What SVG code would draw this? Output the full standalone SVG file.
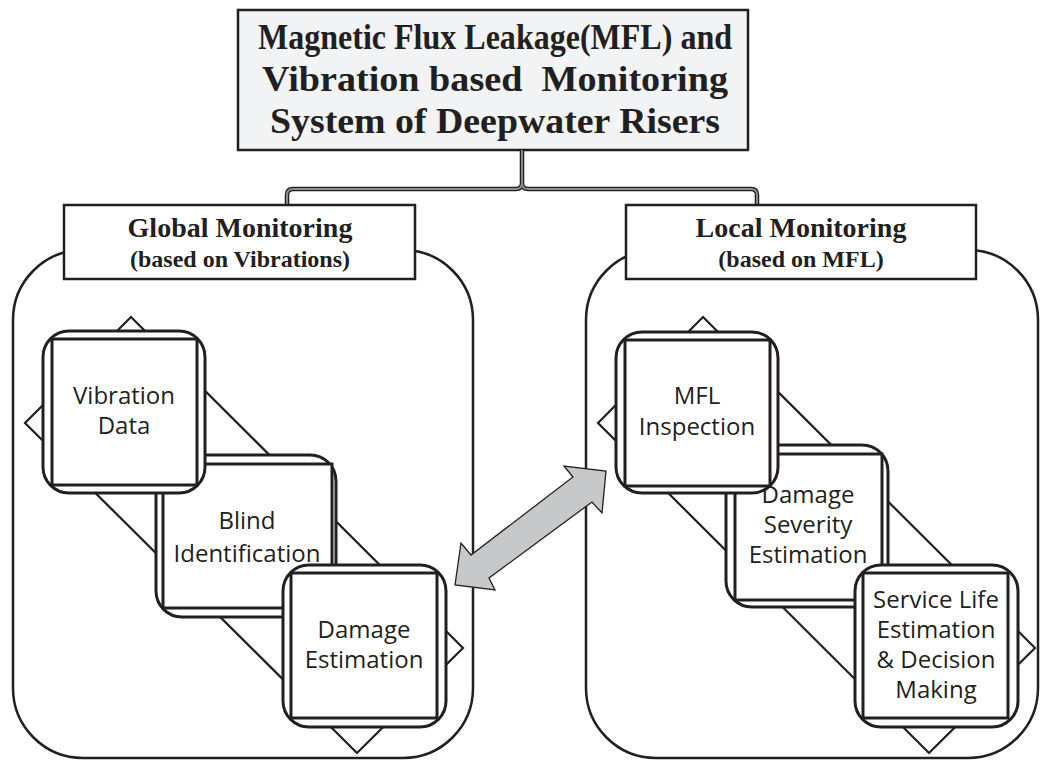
<svg xmlns="http://www.w3.org/2000/svg" width="1041" height="762" viewBox="0 0 1041 762">
<style>
.cont{fill:#fff;stroke:#231f20;stroke-width:2.5}
.hdr{fill:#fff;stroke:#231f20;stroke-width:2.5}
.dia{fill:#fff;stroke:#231f20;stroke-width:2.2}
.outer{fill:#fff;stroke:#231f20;stroke-width:3}
.inner{fill:#fff;stroke:#231f20;stroke-width:3}
.tt{font-family:"Liberation Serif",serif;font-weight:bold;fill:#231f20;text-anchor:middle}
.big{font-family:"Liberation Serif",serif;font-weight:bold;font-size:36px;fill:#231f20;text-anchor:middle}
.nt{font-family:"Open Sans","Liberation Sans",sans-serif;font-size:24px;fill:#231f20;text-anchor:middle}
</style>
<rect width="1041" height="762" fill="#fff"/>

<g id="title">
<rect x="238" y="10" width="510" height="140" fill="#f2f3f4" stroke="#231f20" stroke-width="2.5"/>
<text class="big" x="495" y="49" textLength="474" lengthAdjust="spacingAndGlyphs">Magnetic Flux Leakage(MFL) and</text>
<text class="big" x="495" y="91" textLength="466" lengthAdjust="spacingAndGlyphs" xml:space="preserve">Vibration based  Monitoring</text>
<text class="big" x="495" y="133" textLength="450" lengthAdjust="spacingAndGlyphs">System of Deepwater Risers</text>
</g>

<g id="connectors">
<path d="M287,205 V195 Q287,189 293,189 H516 Q522,189 522,183 V150 M522,183 Q522,189 528,189 H751 Q757,189 757,195 V205" fill="none" stroke="#231f20" stroke-width="4.5"/>
<path d="M287,205 V195 Q287,189 293,189 H516 Q522,189 522,183 V150 M522,183 Q522,189 528,189 H751 Q757,189 757,195 V205" fill="none" stroke="#8c8c8c" stroke-width="2"/>
</g>

<g id="global-container">
<rect class="cont" x="13" y="250" width="460" height="508" rx="70"/>
<polygon class="dia" points="131,317 463,648 357,753 25,423"/>
</g>

<g id="local-container">
<rect class="cont" x="586" y="250" width="452" height="508" rx="70"/>
<polygon class="dia" points="703,317 1035,648 929,753 598,423"/>
</g>

<g id="global-monitoring">
<rect class="hdr" x="64" y="205" width="351" height="74"/>
<text class="tt" x="240" y="237" font-size="28">Global Monitoring</text>
<text class="tt" x="240" y="267" font-size="24">(based on Vibrations)</text>
</g>

<g id="local-monitoring">
<rect class="hdr" x="626" y="205" width="350" height="74"/>
<text class="tt" x="801" y="237" font-size="28">Local Monitoring</text>
<text class="tt" x="801" y="267" font-size="24">(based on MFL)</text>
</g>

<g id="blind-identification">
<rect class="outer" x="156" y="455" width="180" height="162" rx="26"/>
<rect class="inner" x="163" y="464" width="169" height="144"/>
<text class="nt" x="247" y="529">Blind</text>
<text class="nt" x="247" y="562">Identification</text>
</g>

<g id="vibration-data">
<rect class="outer" x="43" y="331" width="162" height="162" rx="26"/>
<rect class="inner" x="52" y="339" width="145" height="146"/>
<text class="nt" x="124" y="404">Vibration</text>
<text class="nt" x="124" y="434">Data</text>
</g>

<g id="damage-estimation">
<rect class="outer" x="283" y="565" width="163" height="162" rx="26"/>
<rect class="inner" x="291" y="573" width="146" height="145"/>
<text class="nt" x="364" y="638">Damage</text>
<text class="nt" x="364" y="668">Estimation</text>
</g>

<g id="damage-severity-estimation">
<rect class="outer" x="726" y="445" width="162" height="162" rx="26"/>
<rect class="inner" x="735" y="454" width="147" height="146"/>
<text class="nt" x="808" y="503">Damage</text>
<text class="nt" x="808" y="533">Severity</text>
<text class="nt" x="808" y="563">Estimation</text>
</g>

<g id="mfl-inspection">
<rect class="outer" x="616" y="332" width="162" height="161" rx="26"/>
<rect class="inner" x="625" y="340" width="145" height="146"/>
<text class="nt" x="697" y="404">MFL</text>
<text class="nt" x="697" y="435">Inspection</text>
</g>

<g id="service-life">
<rect class="outer" x="855" y="565" width="163" height="162" rx="26"/>
<rect class="inner" x="863" y="573" width="145" height="145"/>
<text class="nt" x="936" y="608">Service Life</text>
<text class="nt" x="936" y="638">Estimation</text>
<text class="nt" x="936" y="668">&amp; Decision</text>
<text class="nt" x="936" y="698">Making</text>
</g>

<g id="link-arrow">
<polygon points="455,585 461,543 471,555 573,477 564,466 606,471 602,513 592,502 489,578 495,590" fill="#c7c8ca" stroke="#231f20" stroke-width="1.3" stroke-linejoin="miter"/>
</g>
</svg>
